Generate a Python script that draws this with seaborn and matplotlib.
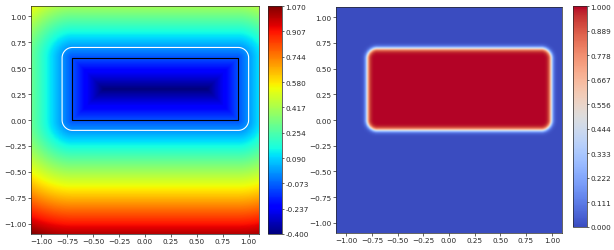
import numpy as np
import matplotlib
matplotlib.use("Agg")
import matplotlib.pyplot as plt
import seaborn as sns

# rectangle (box) and sampling window
rect_x = [-0.7, 0.9]
rect_y = [0.0, 0.6]
extent = [-1.1, 1.1]
offset = 0.1          # rounding radius: zero level sits 0.1 outside the box
sharpness = 0.012     # width of the soft step on the right panel
n_grid = 300

sdf_range = [-0.4, 1.0704]
occ_range = [0.0, 1.0]
axis_ticks = [-1.0, -0.75, -0.5, -0.25, 0.0, 0.25, 0.5, 0.75, 1.0]

sns.set_style("ticks")
plt.rcParams["font.family"] = ["DejaVu Sans"]
fs = 5.2

xs = np.linspace(extent[0], extent[1], n_grid)
ys = np.linspace(extent[0], extent[1], n_grid)
X, Y = np.meshgrid(xs, ys)

# signed distance to the rounded box
cx, cy = np.mean(rect_x), np.mean(rect_y)
hx, hy = (rect_x[1] - rect_x[0]) / 2, (rect_y[1] - rect_y[0]) / 2
qx = np.abs(X - cx) - hx
qy = np.abs(Y - cy) - hy
sdf = np.hypot(np.maximum(qx, 0), np.maximum(qy, 0)) + np.minimum(np.maximum(qx, qy), 0) - offset
occ = 1.0 / (1.0 + np.exp(np.clip(sdf / sharpness, -50, 50)))

fig = plt.figure(figsize=(6.14, 2.51), dpi=100)
ax1 = fig.add_axes([31 / 614, 16 / 251, 228 / 614, 228 / 251])
cax1 = fig.add_axes([268 / 614, 16 / 251, 14 / 614, 228 / 251])
ax2 = fig.add_axes([336 / 614, 16 / 251, 226 / 614, 228 / 251])
cax2 = fig.add_axes([573 / 614, 23 / 251, 14 / 614, 221 / 251])

ext = [extent[0], extent[1], extent[0], extent[1]]
im1 = ax1.imshow(sdf, origin="lower", extent=ext, cmap="jet",
                 vmin=sdf_range[0], vmax=sdf_range[1], interpolation="bilinear")
ax1.contour(X, Y, sdf, levels=[0], colors="white", linewidths=0.8)
ax1.plot([rect_x[0], rect_x[1], rect_x[1], rect_x[0], rect_x[0]],
         [rect_y[0], rect_y[0], rect_y[1], rect_y[1], rect_y[0]],
         color="black", linewidth=0.8)

im2 = ax2.imshow(occ, origin="lower", extent=ext, cmap="coolwarm",
                 vmin=occ_range[0], vmax=occ_range[1], interpolation="bilinear")

for ax in (ax1, ax2):
    ax.set_xticks(axis_ticks)
    ax.set_yticks(axis_ticks)
    ax.set_xlim(extent)
    ax.set_ylim(extent)
    ax.tick_params(labelsize=fs, length=2, width=0.5, pad=1.2)
    for s in ax.spines.values():
        s.set_linewidth(0.5)

for im, cax, rng in ((im1, cax1, sdf_range), (im2, cax2, occ_range)):
    cb = fig.colorbar(im, cax=cax, ticks=np.linspace(rng[0], rng[1], 10), format="%.3f")
    cb.ax.tick_params(labelsize=fs, length=1.5, width=0.5, pad=0.8)
    cb.outline.set_linewidth(0.5)

fig.savefig("out.png", dpi=100)
